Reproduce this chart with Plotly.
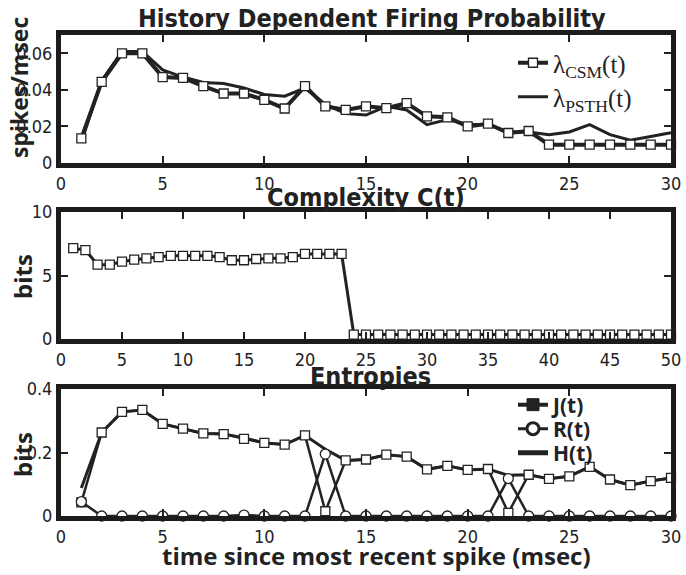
import plotly.graph_objects as go

# ---------------- data ----------------
t_lam = list(range(1, 31))
lam_csm = [0.0135, 0.0444, 0.0600, 0.0600, 0.0470, 0.0465, 0.0420, 0.0380, 0.0380, 0.0345,
           0.0298, 0.0420, 0.0310, 0.0290, 0.0310, 0.0300, 0.0327, 0.0255, 0.0250, 0.0200,
           0.0215, 0.0164, 0.0175, 0.0100, 0.0100, 0.0100, 0.0100, 0.0100, 0.0100, 0.0100]
lam_psth = [0.0115, 0.0450, 0.0610, 0.0610, 0.0509, 0.0470, 0.0440, 0.0435, 0.0410, 0.0375,
            0.0365, 0.0410, 0.0320, 0.0270, 0.0262, 0.0310, 0.0290, 0.0210, 0.0238, 0.0210,
            0.0210, 0.0170, 0.0170, 0.0155, 0.0170, 0.0210, 0.0155, 0.0125, 0.0145, 0.0165]

t_c = list(range(1, 51))
complexity = [7.15, 7.00, 5.85, 5.85, 6.10, 6.25, 6.35, 6.45, 6.55, 6.55,
              6.55, 6.55, 6.45, 6.20, 6.20, 6.30, 6.35, 6.35, 6.45, 6.70,
              6.70, 6.70, 6.70] + [0.35] * 27

t_e = list(range(1, 31))
J = [0.043, 0.263, 0.328, 0.334, 0.290, 0.275, 0.260, 0.258, 0.243, 0.230,
     0.225, 0.254, 0.015, 0.175, 0.178, 0.193, 0.187, 0.147, 0.158, 0.145,
     0.148, 0.010, 0.130, 0.117, 0.125, 0.155, 0.115, 0.097, 0.110, 0.120]
R = [0.045, 0.0, 0.0, 0.0, 0.0, 0.0, 0.0, 0.0, 0.003, 0.0,
     0.0, 0.0, 0.195, 0.0, 0.0, 0.0, 0.0, 0.0, 0.0, 0.0,
     0.0, 0.118, 0.0, 0.0, 0.0, 0.0, 0.0, 0.0, 0.0, 0.0]
H = [0.088, 0.263, 0.328, 0.334, 0.290, 0.275, 0.260, 0.258, 0.246, 0.230,
     0.225, 0.254, 0.210, 0.175, 0.178, 0.193, 0.187, 0.147, 0.158, 0.145,
     0.148, 0.128, 0.130, 0.117, 0.125, 0.155, 0.115, 0.097, 0.110, 0.120]

x_ticks_30 = [0, 5, 10, 15, 20, 25, 30]
x_ticks_50 = [0, 5, 10, 15, 20, 25, 30, 35, 40, 45, 50]
y1_ticks = [0, 0.02, 0.04, 0.06]
y1_labels = ["0", "0.02", "0.04", "0.06"]
y2_ticks = [0, 5, 10]
y3_ticks = [0, 0.2, 0.4]
y3_labels = ["0", "0.2", "0.4"]

# ---------------- style ----------------
DARK = "#222222"
COND = "DejaVu Sans Condensed, Liberation Sans Narrow, Arial Narrow, sans-serif"
HUMAN = "Open Sans, Lato, DejaVu Sans, sans-serif"
SERIF = "Liberation Serif, DejaVu Serif, serif"
W, HGT = 686, 575
PL, PR = 61, 671  # plot area left/right in figure px


def px_x(sx):
    return (sx - PL) / (PR - PL)


def px_y(sy):
    return 1 - sy / HGT


def ydom(top, bot):
    return [px_y(bot), px_y(top)]


fig = go.Figure()

sq = dict(symbol="square", size=9, color="white", line=dict(color=DARK, width=1.3))
ci = dict(symbol="circle", size=10, color="white", line=dict(color=DARK, width=1.3))

# ---- top panel ----
fig.add_trace(go.Scatter(x=t_lam, y=lam_psth, mode="lines", name="λ<sub>PSTH</sub>(t)",
                         line=dict(color=DARK, width=3), xaxis="x", yaxis="y",
                         legend="legend2", cliponaxis=False))
fig.add_trace(go.Scatter(x=t_lam, y=lam_csm, mode="lines+markers", name="λ<sub>CSM</sub>(t)",
                         line=dict(color=DARK, width=4), marker=sq,
                         xaxis="x", yaxis="y", legend="legend", cliponaxis=False))

# ---- middle panel ----
fig.add_trace(go.Scatter(x=t_c, y=complexity, mode="lines+markers", name="C(t)",
                         line=dict(color=DARK, width=3), marker=sq,
                         xaxis="x2", yaxis="y2", showlegend=False, cliponaxis=False))

# ---- bottom panel ----
fig.add_trace(go.Scatter(x=t_e, y=H, mode="lines", name="H(t)",
                         line=dict(color=DARK, width=3), xaxis="x3", yaxis="y3",
                         showlegend=False, cliponaxis=False))
fig.add_trace(go.Scatter(x=t_e, y=J, mode="lines+markers", name="J(t)",
                         line=dict(color=DARK, width=2.5), marker=sq,
                         xaxis="x3", yaxis="y3", showlegend=False, cliponaxis=False))
fig.add_trace(go.Scatter(x=t_e, y=R, mode="lines+markers", name="R(t)",
                         line=dict(color=DARK, width=2.5), marker=ci,
                         xaxis="x3", yaxis="y3", showlegend=False, cliponaxis=False))
# legend entries for bottom panel
fig.add_trace(go.Scatter(x=[None], y=[None], mode="lines+markers", name="J(t)",
                         line=dict(color=DARK, width=4),
                         marker=dict(symbol="square", size=12, color=DARK,
                                     line=dict(color=DARK, width=1)),
                         xaxis="x3", yaxis="y3", legend="legend3"))
fig.add_trace(go.Scatter(x=[None], y=[None], mode="lines+markers", name="R(t)",
                         line=dict(color=DARK, width=3),
                         marker=dict(symbol="circle", size=12, color="white",
                                     line=dict(color=DARK, width=3)),
                         xaxis="x3", yaxis="y3", legend="legend4"))
fig.add_trace(go.Scatter(x=[None], y=[None], mode="lines", name="H(t)",
                         line=dict(color=DARK, width=5),
                         xaxis="x3", yaxis="y3", legend="legend5"))

axis_common = dict(showline=True, linewidth=5, linecolor="#1c1c1c", mirror="ticks",
                   ticks="inside", ticklen=7, tickwidth=1.5, tickcolor=DARK,
                   showgrid=False, zeroline=False, automargin=False,
                   tickfont=dict(family=COND, size=18, color=DARK))

LEG_X = px_x(553 - 40)
leg_serif = dict(xanchor="left", yanchor="middle", bgcolor="rgba(0,0,0,0)",
                 font=dict(family=SERIF, size=25, color=DARK), borderwidth=0)
leg_bold = dict(xanchor="left", yanchor="middle", bgcolor="rgba(0,0,0,0)",
                font=dict(family=HUMAN, size=21, color=DARK, weight="bold"), borderwidth=0)

fig.update_layout(
    width=W, height=HGT, paper_bgcolor="white", plot_bgcolor="white",
    margin=dict(l=PL, r=W - PR, t=0, b=0, autoexpand=False),
    hovermode=False,
    xaxis=dict(domain=[0, 1], range=[0, 30], tickvals=x_ticks_30, anchor="y", **axis_common),
    yaxis=dict(domain=ydom(35, 163), range=[0, 0.07], tickvals=y1_ticks, ticktext=y1_labels,
               anchor="x", **axis_common),
    xaxis2=dict(domain=[0, 1], range=[0, 50], tickvals=x_ticks_50, anchor="y2", **axis_common),
    yaxis2=dict(domain=ydom(212, 339), range=[0, 10], tickvals=y2_ticks, anchor="x2", **axis_common),
    xaxis3=dict(domain=[0, 1], range=[0, 30], tickvals=x_ticks_30, anchor="y3", **axis_common),
    yaxis3=dict(domain=ydom(389, 516), range=[0, 0.4], tickvals=y3_ticks, ticktext=y3_labels,
                anchor="x3", **axis_common),
    legend=dict(x=LEG_X, y=px_y(63), **leg_serif),
    legend2=dict(x=LEG_X, y=px_y(97), **leg_serif),
    legend3=dict(x=LEG_X, y=px_y(405), **leg_bold),
    legend4=dict(x=LEG_X, y=px_y(429), **leg_bold),
    legend5=dict(x=LEG_X, y=px_y(453), **leg_bold),
    showlegend=True,
)

title_font = dict(family=COND, size=25, color=DARK, weight="bold")
hfont = dict(family=HUMAN, color=DARK, weight="bold")
ann = [
    dict(text="History Dependent Firing Probability", x=px_x(372), y=px_y(19), font=title_font),
    dict(text="Complexity C(t)", x=px_x(366), y=px_y(197), font=title_font),
    dict(text="Entropies", x=px_x(370), y=px_y(376), font=title_font),
    dict(text="time since most recent spike (msec)", x=px_x(376), y=px_y(555),
         font=dict(size=24, **hfont)),
    dict(text="spikes/msec", x=px_x(19), y=px_y(88), textangle=-90, font=dict(size=23, **hfont)),
    dict(text="bits", x=px_x(22), y=px_y(277), textangle=-90, font=dict(size=24, **hfont)),
    dict(text="bits", x=px_x(22), y=px_y(455), textangle=-90, font=dict(size=24, **hfont)),
]
for a in ann:
    a.update(xref="paper", yref="paper", showarrow=False, xanchor="center", yanchor="middle")
fig.update_layout(annotations=ann)

# remove the browser's default page margin so the figure sits at the window origin
fig.write_html("out.html", config={"displayModeBar": False},
               post_script="document.body.style.margin='0';")
